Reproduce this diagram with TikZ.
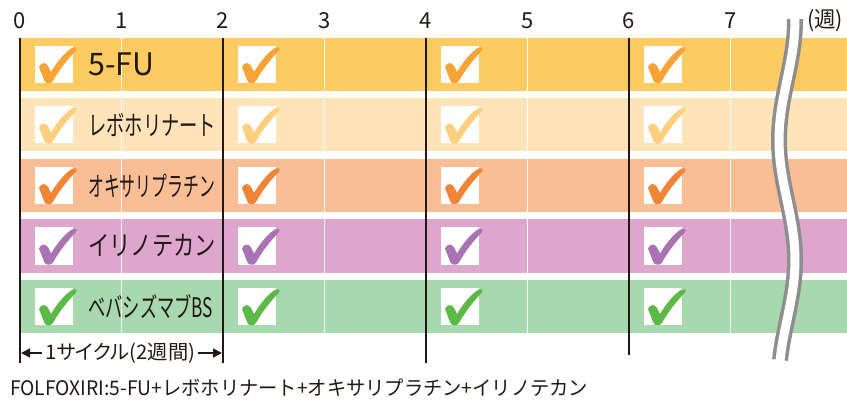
\documentclass[tikz,border=0pt]{standalone}
\usepackage{graphicx}
\usepackage{fontspec}
\setmainfont{Noto Sans CJK JP}
\newfontfamily\paltfont{Noto Sans CJK JP}[RawFeature=+palt]
\usetikzlibrary{arrows.meta}
\newcommand\fitw[2]{\resizebox{#1}{\height}{#2}}
\definecolor{txt}{HTML}{231815}
\definecolor{r1}{HTML}{FDCB62}
\definecolor{r2}{HTML}{FFE3B9}
\definecolor{r3}{HTML}{F9BE96}
\definecolor{r4}{HTML}{DDA6CC}
\definecolor{r5}{HTML}{A8D8AE}
\definecolor{k1}{HTML}{F7A335}
\definecolor{k2}{HTML}{FECF7F}
\definecolor{k3}{HTML}{F08437}
\definecolor{k4}{HTML}{A872B3}
\definecolor{k5}{HTML}{5DB947}
\definecolor{brk}{HTML}{8E8E90}
\tikzset{
  pics/chk/.style={code={
    \fill[white] (0,0) rectangle (38,37);
    \fill[#1] (4,21) .. controls (6,16) and (11,16) .. (13,20) -- (16,26)
      .. controls (22,16) and (30,6) .. (37,2) .. controls (40,0.5) and (43,1.5) .. (41,4.5)
      .. controls (32,14) and (24,24) .. (18,35) .. controls (16,38) and (11,38) .. (9.5,35) -- cycle;
  }},
  axisline/.style={draw=txt,line width=2.4},
  num/.style={text=txt,font=\fontsize{22}{22}\selectfont,inner sep=0},
  lab/.style={text=txt,font=\fontsize{27}{27}\selectfont,inner sep=0,anchor=west},
  bigl/.style={text=txt,font=\fontsize{31}{31}\selectfont,inner sep=0,anchor=west},
  small/.style={text=txt,font=\fontsize{20}{20}\selectfont,inner sep=0},
  arr/.style={draw=txt,line width=1.6,-{Triangle[length=9pt,width=9pt]}},
}
\begin{document}
\begin{tikzpicture}[x=1pt,y=-1pt]
\useasboundingbox (0,0) rectangle (847,401);
% rows
\foreach \t/\c in {38/r1,98.5/r2,159/r3,219.5/r4,280/r5}{
  \fill[\c] (20,\t) rectangle (847,\t+53);
}
% odd week white lines
\foreach \w in {1,3,5,7}{
  \draw[white,line width=1.5] (20+101.5*\w,38) -- (20+101.5*\w,333);
}
% checks
\foreach \t/\c in {38/k1,98.5/k2,159/k3,219.5/k4,280/k5}{
  \foreach \w in {0,2,4,6}{
    \pic at (35+101.5*\w,\t+8) {chk=\c};
  }
}
% labels
\node[bigl] (l1) at (88,64.5) {\fitw{66pt}{5-FU}};
\node[lab] (l2) at (88,125) {\fitw{128pt}{レボホリナート}};
\node[lab] (l3) at (88,185.5) {\fitw{127pt}{オキサリプラチン}};
\node[lab] (l4) at (88,246) {\fitw{128pt}{イリノテカン}};
\node[lab] (l5) at (88,307) {\fitw{125pt}{ベバシズマブBS}};
% axis lines
\draw[axisline] (20,38) -- (20,363);
\draw[axisline] (223,38) -- (223,363);
\draw[axisline] (426,38) -- (426,363);
\draw[axisline] (629,38) -- (629,355);
% axis numbers
\foreach \k in {0,...,7}{
  \node[num] (n\k) at (20+101.5*\k,21) {\k};
}
\node[num,anchor=west] (wk) at (807,21) {\fitw{36pt}{\paltfont(週)}};
% break
\draw[brk,line width=16] plot[smooth,domain=19:360,samples=70] ({787+8*cos(1.5*(\x-20))},\x);
\draw[white,line width=9] plot[smooth,domain=18:361,samples=70] ({787+8*cos(1.5*(\x-20))},\x);
% cycle
\coordinate (a0) at (21,353);
\coordinate (a2) at (222,353);
\node[small,anchor=west] (cy) at (45,353) {\fitw{150pt}{\paltfont 1サイクル(2週間)}};
\draw[arr] ([xshift=-3pt]cy.west) -- (a0);
\draw[arr] ([xshift=3pt]cy.east) -- (a2);
% footer
\node[small,anchor=west] (ft) at (10,388) {\fitw{578pt}{FOLFOXIRI:5-FU+レボホリナート+オキサリプラチン+イリノテカン}};
\end{tikzpicture}
\end{document}
